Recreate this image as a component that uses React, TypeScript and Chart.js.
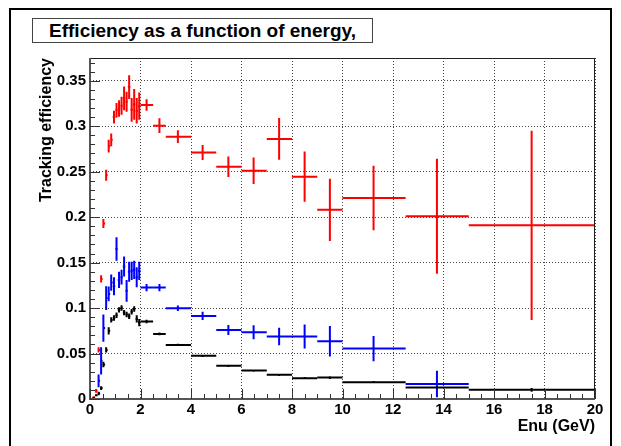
import React, { useEffect, useRef } from "react";
import { Chart, registerables } from "chart.js";

Chart.register(...registerables);

// Energy bins (GeV): lower edge, upper edge, mean energy in bin
const BIN_LO = [0, 0.1, 0.2, 0.3, 0.4, 0.5, 0.6, 0.7, 0.8, 0.9, 1.0, 1.1, 1.2, 1.3, 1.4, 1.5, 1.6, 1.7, 1.8, 1.9, 2, 2.5, 3, 4, 5, 6, 7, 8, 9, 10, 12.5, 15];
const BIN_HI = [0.1, 0.2, 0.3, 0.4, 0.5, 0.6, 0.7, 0.8, 0.9, 1.0, 1.1, 1.2, 1.3, 1.4, 1.5, 1.6, 1.7, 1.8, 1.9, 2.0, 2.5, 3, 4, 5, 6, 7, 8, 9, 10, 12.5, 15, 20];
const X_MEAN = [0.05, 0.15, 0.24, 0.34, 0.44, 0.53, 0.64, 0.74, 0.84, 0.95, 1.05, 1.15, 1.25, 1.35, 1.45, 1.55, 1.65, 1.75, 1.85, 1.95, 2.24, 2.75, 3.48, 4.46, 5.48, 6.48, 7.49, 8.5, 9.5, 11.23, 13.74, 17.49];

const RED_EFF = [null, 0.002, 0.009, 0.054, 0.132, 0.193, 0.246, 0.278, 0.285, 0.31, 0.3175, 0.3195, 0.3225, 0.3306, 0.327, 0.343, 0.318, 0.324, 0.317, 0.322, 0.3233, 0.3006, 0.2885, 0.271, 0.2555, 0.251, 0.286, 0.2445, 0.208, 0.221, 0.201, 0.191];
const RED_ERR = [0, 0.001, 0.002, 0.003, 0.004, 0.005, 0.006, 0.007, 0.007, 0.007, 0.008, 0.009, 0.01, 0.013, 0.011, 0.013, 0.013, 0.017, 0.014, 0.015, 0.0064, 0.0082, 0.007, 0.0082, 0.0113, 0.0146, 0.023, 0.0277, 0.0343, 0.0355, 0.0632, 0.104];

const BLUE_EFF = [null, null, null, 0.02, 0.042, 0.078, 0.111, 0.1156, 0.128, 0.124, 0.165, 0.131, 0.134, 0.1456, 0.119, 0.14, 0.141, 0.142, 0.134, 0.141, 0.1225, 0.1225, 0.0999, 0.0914, 0.076, 0.0735, 0.0687, 0.0687, 0.0636, 0.0555, 0.0164, null];
const BLUE_ERR = [0, 0, 0, 0.007, 0.015, 0.015, 0.013, 0.008, 0.009, 0.01, 0.013, 0.009, 0.008, 0.011, 0.012, 0.011, 0.01, 0.01, 0.011, 0.01, 0.004, 0.004, 0.003, 0.0046, 0.0055, 0.0077, 0.0097, 0.0132, 0.0168, 0.0139, 0.0146, 0];

const BLACK_EFF = [null, 0.001, 0.004, 0.006, 0.012, 0.038, 0.054, 0.075, 0.087, 0.089, 0.092, 0.098, 0.1, 0.095, 0.093, 0.091, 0.096, 0.099, 0.088, 0.084, 0.0852, 0.0716, 0.0595, 0.0475, 0.0365, 0.0313, 0.0266, 0.0229, 0.0236, 0.0185, 0.0127, 0.0101];
const BLACK_ERR = [0, 0.001, 0.001, 0.002, 0.002, 0.003, 0.003, 0.004, 0.003, 0.003, 0.003, 0.003, 0.003, 0.003, 0.003, 0.003, 0.003, 0.003, 0.004, 0.004, 0.002, 0.0015, 0.0012, 0.0012, 0.0012, 0.0012, 0.0012, 0.0012, 0.0015, 0.0012, 0.0012, 0.002];

const X_TICKS = [0, 2, 4, 6, 8, 10, 12, 14, 16, 18, 20];
const Y_TICKS = [0, 0.05, 0.1, 0.15, 0.2, 0.25, 0.3, 0.35];
const Y_TICK_LABELS = ["0", "0.05", "0.1", "0.15", "0.2", "0.25", "0.3", "0.35"];

const TITLE = "Efficiency as a function of energy,";
const X_TITLE = "Enu (GeV)";
const Y_TITLE = "Tracking efficiency";

const FONT = '"Liberation Sans", Arial, Helvetica, sans-serif';

const errorBarPlugin = {
  id: "errorBars",
  afterDatasetsDraw(chart: any) {
    const { ctx, chartArea } = chart;
    const xs = chart.scales.x;
    const ys = chart.scales.y;
    ctx.save();
    ctx.beginPath();
    ctx.rect(chartArea.left, chartArea.top, chartArea.right - chartArea.left, chartArea.bottom - chartArea.top);
    ctx.clip();
    chart.data.datasets.forEach((ds: any) => {
      ctx.strokeStyle = ds.borderColor;
      ctx.lineWidth = 2;
      ds.data.forEach((p: any, i: number) => {
        if (p.y == null) return;
        const px = xs.getPixelForValue(p.x);
        const py = ys.getPixelForValue(p.y);
        const x0 = xs.getPixelForValue(ds.xLo[i]);
        const x1 = xs.getPixelForValue(ds.xHi[i]);
        const y0 = ys.getPixelForValue(p.y - ds.yErr[i]);
        const y1 = ys.getPixelForValue(p.y + ds.yErr[i]);
        ctx.beginPath();
        ctx.moveTo(x0, py);
        ctx.lineTo(x1, py);
        ctx.moveTo(px, y0);
        ctx.lineTo(px, y1);
        ctx.stroke();
      });
    });
    ctx.restore();
  },
};

const framePlugin = {
  id: "rootFrame",
  afterDraw(chart: any) {
    const { ctx, chartArea } = chart;
    const xs = chart.scales.x;
    const ys = chart.scales.y;
    const { left, right, top, bottom } = chartArea;
    ctx.save();
    // frame
    ctx.strokeStyle = "#222";
    ctx.lineWidth = 1;
    ctx.strokeRect(left + 0.5, top + 0.5, right - left - 1, bottom - top - 1);
    // axes
    ctx.strokeStyle = "#555";
    ctx.lineWidth = 2;
    ctx.beginPath();
    ctx.moveTo(left, top);
    ctx.lineTo(left, bottom);
    ctx.lineTo(right, bottom);
    ctx.stroke();
    // ticks
    ctx.lineWidth = 1;
    ctx.strokeStyle = "#333";
    ctx.beginPath();
    for (let k = 0; k <= 40; k++) {
      const v = k * 0.5;
      const px = Math.round(xs.getPixelForValue(v)) + 0.5;
      const len = k % 4 === 0 ? 10 : 5;
      ctx.moveTo(px, bottom);
      ctx.lineTo(px, bottom - len);
    }
    for (let k = 0; k <= 37; k++) {
      const v = k * 0.01;
      const py = Math.round(ys.getPixelForValue(v)) + 0.5;
      if (py < top) continue;
      const len = k % 5 === 0 ? 10 : 5;
      ctx.moveTo(left, py);
      ctx.lineTo(left + len, py);
    }
    ctx.stroke();
    ctx.restore();
  },
};

export default function App() {
  const canvasRef = useRef<HTMLCanvasElement | null>(null);

  useEffect(() => {
    const canvas = canvasRef.current;
    if (!canvas) return;
    const mk = (vals: (number | null)[]) => X_MEAN.map((x, i) => ({ x, y: vals[i] }));
    const chart = new Chart(canvas, {
      type: "scatter",
      data: {
        datasets: [
          { label: "red", data: mk(RED_EFF), borderColor: "#ff0000", backgroundColor: "#ff0000", pointRadius: 0, xLo: BIN_LO, xHi: BIN_HI, yErr: RED_ERR } as any,
          { label: "blue", data: mk(BLUE_EFF), borderColor: "#0000ff", backgroundColor: "#0000ff", pointRadius: 0, xLo: BIN_LO, xHi: BIN_HI, yErr: BLUE_ERR } as any,
          { label: "black", data: mk(BLACK_EFF), borderColor: "#000000", backgroundColor: "#000000", pointRadius: 0, xLo: BIN_LO, xHi: BIN_HI, yErr: BLACK_ERR } as any,
        ],
      },
      options: {
        animation: false,
        responsive: false,
        devicePixelRatio: 1,
        layout: { padding: { left: 0, right: 26, top: 58, bottom: 0 } },
        plugins: { legend: { display: false }, tooltip: { enabled: false }, title: { display: false } },
        scales: {
          x: {
            type: "linear",
            min: 0,
            max: 20,
            afterFit: (s: any) => {
              s.height = 47;
            },
            afterBuildTicks: (s: any) => {
              s.ticks = X_TICKS.map((v) => ({ value: v }));
            },
            ticks: {
              autoSkip: false,
              maxRotation: 0,
              padding: 2,
              color: "#000",
              font: { family: FONT, size: 15, weight: "bold" },
              callback: (v: any) => String(v),
            },
            grid: { drawTicks: false, color: "#444", lineWidth: 1 },
            border: { display: false, dash: [1, 2] },
            title: {
              display: true,
              text: X_TITLE,
              align: "end",
              color: "#000",
              font: { family: FONT, size: 16, weight: "bold" },
              padding: { top: 0, bottom: 10 },
            },
          },
          y: {
            type: "linear",
            min: 0,
            max: 0.375,
            afterFit: (s: any) => {
              s.width = 90;
            },
            afterBuildTicks: (s: any) => {
              s.ticks = Y_TICKS.map((v) => ({ value: v }));
            },
            ticks: {
              autoSkip: false,
              padding: 4,
              color: "#000",
              font: { family: FONT, size: 15, weight: "bold" },
              callback: (v: any) => {
                const i = Y_TICKS.findIndex((t) => Math.abs(t - v) < 1e-9);
                return i >= 0 ? Y_TICK_LABELS[i] : "";
              },
            },
            grid: { drawTicks: false, color: "#444", lineWidth: 1 },
            border: { display: false, dash: [1, 2] },
            title: {
              display: true,
              text: Y_TITLE,
              align: "end",
              color: "#000",
              font: { family: FONT, size: 16, weight: "bold" },
              padding: { top: 37, bottom: 0 },
            },
          },
        },
      } as any,
      plugins: [errorBarPlugin, framePlugin],
    });
    return () => chart.destroy();
  }, []);

  return (
    <div style={{ position: "fixed", left: 0, top: 0, width: 621, height: 446, overflow: "hidden", background: "#fff" }}>
      <div
        style={{
          position: "absolute",
          left: 9,
          top: 8,
          width: 603,
          height: 470,
          boxSizing: "border-box",
          border: "2px solid #000",
        }}
      />
      <canvas ref={canvasRef} width={621} height={446} style={{ position: "absolute", left: 0, top: 0, width: 621, height: 446 }} />
      <div
        style={{
          position: "absolute",
          left: 32,
          top: 18,
          width: 341,
          height: 25,
          boxSizing: "border-box",
          border: "1px solid #444",
          background: "#fff",
          fontFamily: FONT,
          fontWeight: "bold",
          fontSize: 19,
          lineHeight: "23px",
          textAlign: "center",
          color: "#000",
          whiteSpace: "nowrap",
        }}
      >
        {TITLE}
      </div>
    </div>
  );
}
